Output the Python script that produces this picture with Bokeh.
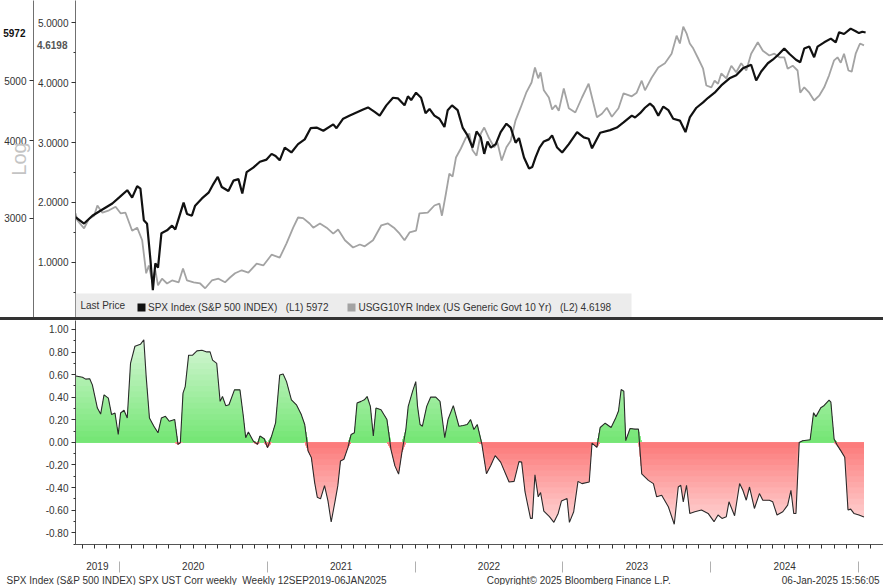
import numpy as np
from bokeh.plotting import figure
from bokeh.models import (Range1d, LogScale, LinearAxis, FixedTicker, PrintfTickFormatter,
                          Label, Legend, LegendItem, BoxAnnotation, Title, Spacer)
from bokeh.layouts import column
from bokeh.embed import file_html
from bokeh.resources import INLINE

# ---------------- data ----------------
spx_t = [2019.704, 2019.762, 2019.818, 2019.886, 2019.953, 2019.998, 2020.054, 2020.087, 2020.121, 2020.143,
         2020.166, 2020.188, 2020.211, 2020.227, 2020.244, 2020.262, 2020.285, 2020.323, 2020.357, 2020.379,
         2020.435, 2020.458, 2020.491, 2020.513, 2020.559, 2020.604, 2020.637, 2020.666, 2020.693, 2020.738,
         2020.772, 2020.806, 2020.832, 2020.861, 2020.906, 2020.951, 2020.996, 2021.030, 2021.057, 2021.085,
         2021.119, 2021.164, 2021.209, 2021.254, 2021.294, 2021.334, 2021.380, 2021.447, 2021.469, 2021.514,
         2021.559, 2021.604, 2021.649, 2021.682, 2021.727, 2021.761, 2021.806, 2021.851, 2021.884, 2021.929,
         2021.952, 2021.974, 2022.007, 2022.041, 2022.071, 2022.098, 2022.131, 2022.165, 2022.199, 2022.221,
         2022.250, 2022.288, 2022.322, 2022.355, 2022.389, 2022.416, 2022.445, 2022.468, 2022.490, 2022.512,
         2022.546, 2022.579, 2022.618, 2022.647, 2022.680, 2022.703, 2022.737, 2022.771, 2022.793, 2022.815,
         2022.842, 2022.871, 2022.905, 2022.927, 2022.961, 2022.995, 2023.040, 2023.096, 2023.141, 2023.174,
         2023.197, 2023.252, 2023.320, 2023.365, 2023.410, 2023.466, 2023.488, 2023.522, 2023.555, 2023.589,
         2023.612, 2023.645, 2023.679, 2023.713, 2023.746, 2023.791, 2023.829, 2023.858, 2023.903, 2023.948,
         2023.982, 2024.026, 2024.071, 2024.127, 2024.172, 2024.217, 2024.273, 2024.307, 2024.341, 2024.386,
         2024.419, 2024.453, 2024.497, 2024.531, 2024.576, 2024.605, 2024.632, 2024.666, 2024.699, 2024.722,
         2024.767, 2024.812, 2024.845, 2024.868, 2024.901, 2024.946, 2024.980, 2025.002, 2025.025, 2025.047]
spx_v = [3014, 2943, 3030, 3100, 3170, 3240, 3330, 3240, 3380, 3350,
         2980, 2940, 2570, 2300, 2540, 2500, 2840, 2870, 2920, 2880,
         3180, 3050, 3030, 3145, 3230, 3300, 3410, 3500, 3370, 3320,
         3450, 3470, 3290, 3560, 3620, 3700, 3730, 3810, 3780, 3720,
         3900, 3830, 3950, 4020, 4190, 4200, 4150, 4250, 4190, 4340,
         4390, 4440, 4490, 4525, 4450, 4390, 4560, 4690, 4680, 4560,
         4715, 4650, 4780, 4690, 4430, 4500, 4390, 4340, 4210, 4480,
         4560, 4480, 4200, 4080, 3900, 4140, 4050, 3810, 3990, 3900,
         3950, 4130, 4260, 4200, 3970, 4040, 3760, 3610, 3630, 3760,
         3900, 3990, 4020, 4080, 3900, 3830, 3950, 4130, 4050, 4030,
         3890, 4120, 4160, 4200, 4280, 4390, 4360, 4430, 4520, 4590,
         4540, 4390, 4540, 4480, 4340, 4310, 4130, 4360, 4520, 4610,
         4690, 4780, 4910, 5040, 5100, 5230, 5300, 5000, 5170, 5330,
         5400, 5490, 5630, 5520, 5400, 5350, 5630, 5670, 5450, 5670,
         5760, 5840, 5760, 5980, 5940, 6060, 6000, 5960, 5990, 5972]

ust_t = [2019.704, 2019.717, 2019.762, 2019.796, 2019.830, 2019.852, 2019.886, 2019.931, 2019.975, 2020.009,
         2020.042, 2020.087, 2020.121, 2020.155, 2020.182, 2020.200, 2020.222, 2020.244, 2020.262, 2020.289,
         2020.323, 2020.357, 2020.402, 2020.431, 2020.458, 2020.503, 2020.547, 2020.581, 2020.626, 2020.671,
         2020.715, 2020.749, 2020.783, 2020.828, 2020.873, 2020.929, 2020.974, 2021.030, 2021.085, 2021.131,
         2021.176, 2021.209, 2021.243, 2021.287, 2021.312, 2021.357, 2021.402, 2021.447, 2021.480, 2021.526,
         2021.581, 2021.627, 2021.660, 2021.716, 2021.772, 2021.817, 2021.862, 2021.896, 2021.929, 2021.963,
         2022.007, 2022.030, 2022.086, 2022.131, 2022.165, 2022.182, 2022.209, 2022.232, 2022.254, 2022.277,
         2022.310, 2022.344, 2022.367, 2022.389, 2022.416, 2022.445, 2022.468, 2022.501, 2022.535, 2022.557,
         2022.586, 2022.618, 2022.647, 2022.680, 2022.714, 2022.752, 2022.788, 2022.811, 2022.833, 2022.849,
         2022.871, 2022.905, 2022.927, 2022.950, 2022.972, 2023.006, 2023.040, 2023.084, 2023.129, 2023.174,
         2023.197, 2023.230, 2023.264, 2023.297, 2023.331, 2023.376, 2023.410, 2023.466, 2023.499, 2023.533,
         2023.555, 2023.600, 2023.645, 2023.690, 2023.735, 2023.769, 2023.791, 2023.814, 2023.836, 2023.858,
         2023.881, 2023.915, 2023.948, 2023.970, 2024.004, 2024.026, 2024.049, 2024.071, 2024.105, 2024.139,
         2024.172, 2024.206, 2024.240, 2024.273, 2024.318, 2024.352, 2024.396, 2024.430, 2024.464, 2024.497,
         2024.520, 2024.554, 2024.587, 2024.605, 2024.632, 2024.666, 2024.699, 2024.733, 2024.767, 2024.800,
         2024.834, 2024.857, 2024.879, 2024.901, 2024.931, 2024.953, 2024.980, 2025.009, 2025.036]
ust_v = [1.82, 1.70, 1.57, 1.73, 1.78, 1.95, 1.83, 1.87, 1.93, 1.82,
         1.83, 1.53, 1.58, 1.37, 0.82, 0.95, 0.70, 0.87, 0.62, 0.73,
         0.65, 0.70, 0.67, 0.90, 0.70, 0.67, 0.65, 0.57, 0.70, 0.73,
         0.67, 0.75, 0.82, 0.87, 0.83, 0.98, 0.95, 1.13, 1.08, 1.32,
         1.58, 1.75, 1.74, 1.65, 1.58, 1.65, 1.58, 1.48, 1.55, 1.37,
         1.25, 1.30, 1.27, 1.37, 1.62, 1.65, 1.57, 1.48, 1.37, 1.50,
         1.53, 1.82, 1.83, 1.95, 1.98, 1.78, 2.15, 2.48, 2.43, 2.75,
         2.90, 3.08, 3.15, 2.87, 2.78, 3.15, 3.25, 3.07, 2.92, 3.00,
         2.70, 2.92, 3.03, 3.37, 3.58, 3.83, 4.00, 4.25, 4.07, 4.17,
         3.87, 3.75, 3.55, 3.62, 3.53, 3.90, 3.57, 3.50, 3.75, 3.98,
         3.75, 3.42, 3.48, 3.58, 3.43, 3.57, 3.82, 3.77, 3.83, 4.03,
         3.87, 4.08, 4.25, 4.32, 4.48, 4.78, 4.65, 4.93, 4.82, 4.65,
         4.57, 4.40, 4.23, 3.95, 3.92, 4.03, 3.98, 4.15, 4.07, 4.28,
         4.17, 4.32, 4.20, 4.48, 4.67, 4.53, 4.45, 4.48, 4.42, 4.42,
         4.23, 4.28, 4.20, 3.83, 3.92, 3.83, 3.70, 3.78, 3.92, 4.12,
         4.37, 4.42, 4.33, 4.48, 4.20, 4.18, 4.48, 4.65, 4.6198]

corr_t = [2019.706, 2019.751, 2019.773, 2019.800, 2019.818, 2019.852, 2019.874, 2019.897, 2019.926, 2019.948,
          2019.971, 2019.993, 2020.009, 2020.032, 2020.054, 2020.076, 2020.106, 2020.143, 2020.166, 2020.182,
          2020.204, 2020.234, 2020.262, 2020.285, 2020.312, 2020.338, 2020.375, 2020.397, 2020.413, 2020.431,
          2020.446, 2020.469, 2020.496, 2020.525, 2020.559, 2020.592, 2020.614, 2020.631, 2020.659, 2020.682,
          2020.698, 2020.720, 2020.742, 2020.779, 2020.816, 2020.839, 2020.855, 2020.873, 2020.906, 2020.935,
          2020.951, 2020.980, 2021.003, 2021.030, 2021.057, 2021.085, 2021.108, 2021.131, 2021.164, 2021.198,
          2021.231, 2021.254, 2021.277, 2021.299, 2021.321, 2021.339, 2021.361, 2021.388, 2021.411, 2021.433,
          2021.460, 2021.478, 2021.496, 2021.519, 2021.546, 2021.568, 2021.590, 2021.608, 2021.635, 2021.657,
          2021.676, 2021.698, 2021.718, 2021.736, 2021.770, 2021.810, 2021.837, 2021.864, 2021.889, 2021.911,
          2021.938, 2021.954, 2021.983, 2022.005, 2022.017, 2022.034, 2022.050, 2022.079, 2022.106, 2022.140,
          2022.169, 2022.201, 2022.223, 2022.259, 2022.297, 2022.326, 2022.353, 2022.376, 2022.398, 2022.421,
          2022.452, 2022.483, 2022.512, 2022.542, 2022.579, 2022.636, 2022.670, 2022.703, 2022.721, 2022.744,
          2022.781, 2022.793, 2022.811, 2022.833, 2022.849, 2022.871, 2022.909, 2022.939, 2022.968, 2022.990,
          2023.028, 2023.044, 2023.073, 2023.102, 2023.129, 2023.178, 2023.197, 2023.230, 2023.252, 2023.286,
          2023.326, 2023.358, 2023.376, 2023.394, 2023.412, 2023.425, 2023.454, 2023.488, 2023.511, 2023.533,
          2023.578, 2023.612, 2023.634, 2023.668, 2023.713, 2023.753, 2023.780, 2023.797, 2023.814, 2023.836,
          2023.858, 2023.892, 2023.937, 2023.982, 2024.022, 2024.049, 2024.076, 2024.105, 2024.123, 2024.161,
          2024.195, 2024.217, 2024.240, 2024.262, 2024.295, 2024.329, 2024.352, 2024.396, 2024.419, 2024.448,
          2024.487, 2024.520, 2024.542, 2024.561, 2024.576, 2024.598, 2024.621, 2024.672, 2024.695, 2024.711,
          2024.744, 2024.767, 2024.800, 2024.812, 2024.834, 2024.857, 2024.879, 2024.906, 2024.928, 2024.946,
          2024.968, 2025.002, 2025.036]
corr_v = [0.588, 0.576, 0.560, 0.564, 0.509, 0.304, 0.251, 0.421, 0.392, 0.246,
          0.260, 0.070, 0.260, 0.284, 0.216, 0.699, 0.851, 0.868, 0.909, 0.582,
          0.216, 0.143, 0.085, 0.216, 0.231, 0.187, 0.202, -0.018, -0.003, 0.436,
          0.494, 0.772, 0.772, 0.810, 0.816, 0.801, 0.801, 0.728, 0.699, 0.363,
          0.406, 0.325, 0.333, 0.465, 0.465, 0.231, 0.041, 0.091, 0.012, -0.018,
          0.056, 0.032, -0.047, 0.056, 0.173, 0.596, 0.605, 0.538, 0.377, 0.333,
          0.246, 0.158, -0.076, -0.135, -0.354, -0.485, -0.500, -0.383, -0.515, -0.705,
          -0.515, -0.383, -0.164, -0.149, -0.047, 0.070, 0.085, 0.348, 0.363, 0.377,
          0.406, 0.319, 0.056, 0.304, 0.289, 0.202, -0.061, -0.208, -0.281, -0.091,
          0.114, 0.319, 0.450, 0.538, 0.319, 0.158, 0.143, 0.319, 0.401, 0.401,
          0.363, 0.041, 0.202, 0.325, 0.143, 0.149, 0.158, 0.202, 0.114, 0.158,
          -0.015, -0.278, -0.205, -0.117, -0.175, -0.351, -0.345, -0.170, -0.175, -0.439,
          -0.673, -0.673, -0.287, -0.482, -0.444, -0.608, -0.658, -0.708, -0.629, -0.520,
          -0.497, -0.708, -0.614, -0.345, -0.365, -0.351, -0.006, -0.044, 0.132, 0.170,
          0.132, 0.219, 0.278, 0.468, 0.453, 0.015, 0.123, 0.117, 0.117, -0.278,
          -0.336, -0.365, -0.482, -0.468, -0.570, -0.725, -0.395, -0.380, -0.526, -0.380,
          -0.629, -0.614, -0.599, -0.629, -0.702, -0.643, -0.673, -0.658, -0.526, -0.649,
          -0.365, -0.424, -0.512, -0.395, -0.585, -0.453, -0.512, -0.512, -0.526, -0.643,
          -0.614, -0.556, -0.424, -0.629, -0.629, 0.000, 0.015, 0.023, 0.263, 0.228,
          0.307, 0.327, 0.374, 0.357, 0.029, -0.029, -0.073, -0.132, -0.599, -0.591,
          -0.629, -0.643, -0.661]

spx_ticks = [3000, 4000, 5000]
ust_ticks = [1, 2, 3, 4, 5]
corr_ticks = [-0.8, -0.6, -0.4, -0.2, 0.0, 0.2, 0.4, 0.6, 0.8, 1.0]
years = [2019, 2020, 2021, 2022, 2023, 2024, 2025]

spx_name = "SPX Index (S&P 500 INDEX)"
ust_name = "USGG10YR Index (US Generic Govt 10 Yr)"
scale_label = "Log"
footer_left = "SPX Index (S&P 500 INDEX) SPX UST Corr weekly \u00a0Weekly 12SEP2019-06JAN2025"
footer_mid = "Copyright\u00a9 2025 Bloomberg Finance L.P."
footer_right = "06-Jan-2025 15:56:05"

# ---------------- styling ----------------
FONT = "Liberation Sans"
TXT = "#333333"
W = 883
NB = "\u00a0"
X0, X1 = 2019.704, 2025.168
xr = Range1d(X0, X1)


def plain_axis(ax):
    ax.axis_line_color = None
    ax.major_tick_line_color = None
    ax.minor_tick_line_color = None
    ax.major_tick_out = 0
    ax.major_tick_in = 0
    ax.minor_tick_out = 0
    ax.minor_tick_in = 0
    ax.major_label_text_font = FONT
    ax.major_label_text_font_size = "10px"


# ---------------- top panel ----------------
top = figure(width=W, height=317, x_range=xr, y_range=Range1d(0.083, 5.367),
             output_backend="svg", toolbar_location=None, x_axis_location=None,
             min_border_left=71, min_border_right=0, min_border_top=0, min_border_bottom=0,
             outline_line_color=None)
top.grid.visible = False
top.extra_y_ranges = {"spx": Range1d(2078, 6725)}
top.extra_y_scales = {"spx": LogScale()}

ya = top.yaxis[0]
ya.ticker = FixedTicker(ticks=ust_ticks, minor_ticks=list(np.arange(0.5, 5.51, 0.5)))
ya.formatter = PrintfTickFormatter(format="%.4f")

# last-value tag of the yield (sits over the yield label column, takes ~no room)
tag_ust = LinearAxis(ticker=FixedTicker(ticks=[ust_v[-1]], minor_ticks=[]),
                     formatter=PrintfTickFormatter(format="%.4f"))
plain_axis(tag_ust)
tag_ust.major_label_standoff = -33
tag_ust.major_label_text_color = "#555555"
tag_ust.major_label_text_font_style = "bold"
top.add_layout(tag_ust, "left")

spx_axis = LinearAxis(y_range_name="spx", ticker=FixedTicker(ticks=spx_ticks, minor_ticks=[]),
                      formatter=PrintfTickFormatter(format="%d"))
top.add_layout(spx_axis, "left")

for ax in (ya, spx_axis):
    ax.axis_line_color = "#707070"
    ax.major_tick_line_color = "#333333"
    ax.minor_tick_line_color = "#333333"
    ax.major_tick_out = 4
    ax.major_tick_in = 0
    ax.minor_tick_out = 2
    ax.minor_tick_in = 0
    ax.major_label_text_font = FONT
    ax.major_label_text_font_size = "10px"
    ax.major_label_text_color = TXT
    ax.major_label_standoff = 3

spx_axis.axis_label = scale_label
spx_axis.axis_label_standoff = -29
spx_axis.axis_label_text_font = FONT
spx_axis.axis_label_text_font_size = "20px"
spx_axis.axis_label_text_font_style = "normal"
spx_axis.axis_label_text_color = "#c4c4c4"

# last-value tag of the S&P 500
tag_spx = LinearAxis(y_range_name="spx", ticker=FixedTicker(ticks=[spx_v[-1]], minor_ticks=[]),
                     formatter=PrintfTickFormatter(format="%d"))
plain_axis(tag_spx)
tag_spx.major_label_standoff = -20
tag_spx.major_label_text_color = "#111111"
tag_spx.major_label_text_font_style = "bold"
top.add_layout(tag_spx, "left")

top.line(ust_t, ust_v, line_color="#a3a3a3", line_width=1.8)
top.line(spx_t, spx_v, line_color="#111111", line_width=2.2, y_range_name="spx")

strip = BoxAnnotation(left=0, right=556, bottom=0, top=24,
                      left_units="screen", right_units="screen", top_units="screen", bottom_units="screen",
                      fill_color="#ececec", fill_alpha=1.0, line_color=None)
top.add_layout(strip)

# zero-size quads at the last values: they only supply the legend swatches
sq1 = top.quad(left=[spx_t[-1]], right=[spx_t[-1]], top=[spx_v[-1]], bottom=[spx_v[-1]],
               fill_color="#111111", line_color=None, y_range_name="spx")
sq2 = top.quad(left=[ust_t[-1]], right=[ust_t[-1]], top=[ust_v[-1]], bottom=[ust_v[-1]],
               fill_color="#a3a3a3", line_color=None)
legend = Legend(items=[LegendItem(label=f"{spx_name}{NB * 3}(L1) {spx_v[-1]}", renderers=[sq1]),
                       LegendItem(label=f"{ust_name}{NB * 3}(L2) {ust_v[-1]}", renderers=[sq2])],
                orientation="horizontal", location=(61, 4), glyph_width=10, glyph_height=10,
                label_height=12, label_standoff=2, spacing=18, padding=2, margin=0,
                background_fill_alpha=0, border_line_color=None,
                label_text_font=FONT, label_text_font_size="10px", label_text_color=TXT)
top.add_layout(legend)

top.add_layout(Label(x=5, y=12, x_units="screen", y_units="screen", text="Last Price",
                     text_font=FONT, text_font_size="10px", text_color=TXT, text_baseline="middle"))

# ---------------- separator bar ----------------
sep = Spacer(width=W, height=3, styles={"background-color": "#333333"})

# ---------------- bottom panel ----------------
bot = figure(width=W, height=265, x_range=xr, y_range=Range1d(-0.904, 1.079),
             output_backend="svg", toolbar_location=None,
             min_border_left=71, min_border_right=0, min_border_top=0, min_border_bottom=39,
             outline_line_color=None)
bot.grid.visible = False

ct = np.array(corr_t)
cv = np.array(corr_v)
pos = np.clip(cv, 0, None)
neg = np.clip(cv, None, 0)


def mix(c0, c1, f):
    f = min(max(f, 0.0), 1.0)
    return "#%02x%02x%02x" % tuple(int(round(a + (b - a) * f)) for a, b in zip(c0, c1))


step = 0.05
for hi in np.arange(1.10, 0.0, -step):
    col = mix((118, 230, 118), (222, 248, 222), (hi - step) / 0.95)
    bot.varea(x=ct, y1=np.zeros_like(pos), y2=np.minimum(pos, hi), fill_color=col)
for hi in np.arange(0.95, 0.0, -step):
    col = mix((252, 124, 124), (255, 228, 228), (hi - step) / 0.8)
    bot.varea(x=ct, y1=np.zeros_like(neg), y2=np.maximum(neg, -hi), fill_color=col)
bot.line(ct, cv, line_color="#2b2b2b", line_width=1.1)

cy = bot.yaxis[0]
cy.ticker = FixedTicker(ticks=corr_ticks, minor_ticks=list(np.round(np.arange(-0.9, 1.01, 0.1), 2)))
cy.formatter = PrintfTickFormatter(format="%.2f")
cy.axis_line_color = "#555555"
cy.major_tick_line_color = "#333333"
cy.minor_tick_line_color = "#333333"
cy.major_label_text_font = FONT
cy.major_label_text_font_size = "10px"
cy.major_label_text_color = TXT
cy.major_tick_out = 4
cy.major_tick_in = 0
cy.minor_tick_out = 2
cy.minor_tick_in = 0
cy.major_label_standoff = 3

# x axis: monthly ticks on the axis line, year names centred in each year's span
months = [y + m / 12 for y in years for m in range(12) if X0 < y + m / 12 < X1]
label_pos = [(max(y, X0) + y + 1) / 2 for y in years if y + 1 < X1]
xa = bot.xaxis[0]
xa.ticker = FixedTicker(ticks=label_pos, minor_ticks=months)
xa.formatter = PrintfTickFormatter(format="%d")
xa.major_tick_line_color = None
xa.major_tick_out = 0
xa.major_tick_in = 0
xa.minor_tick_out = 4
xa.minor_tick_in = 0
xa.minor_tick_line_color = "#333333"
xa.axis_line_color = "#555555"
xa.major_label_standoff = 13
xa.major_label_text_font = FONT
xa.major_label_text_font_size = "10px"
xa.major_label_text_color = TXT

# year separators: ticks of a second, label-less axis reaching up beside the year names
bounds = [y for y in years if X0 < y < X1]
xb = LinearAxis(ticker=FixedTicker(ticks=bounds, minor_ticks=[]),
                formatter=PrintfTickFormatter(format=""))
plain_axis(xb)
xb.major_tick_line_color = "#b0b0b0"
xb.major_tick_in = 11
xb.major_tick_out = 0
xb.major_label_standoff = 0
bot.add_layout(xb, "below")

footer = footer_left + NB * 36 + footer_mid + NB * 40 + footer_right
bot.add_layout(Title(text=footer, align="left", offset=-69, standoff=0,
                     text_font=FONT, text_font_size="10px", text_font_style="normal",
                     text_color=TXT), "below")

layout = column(top, sep, bot, spacing=0)
open("out.html", "w").write(file_html(layout, INLINE))
